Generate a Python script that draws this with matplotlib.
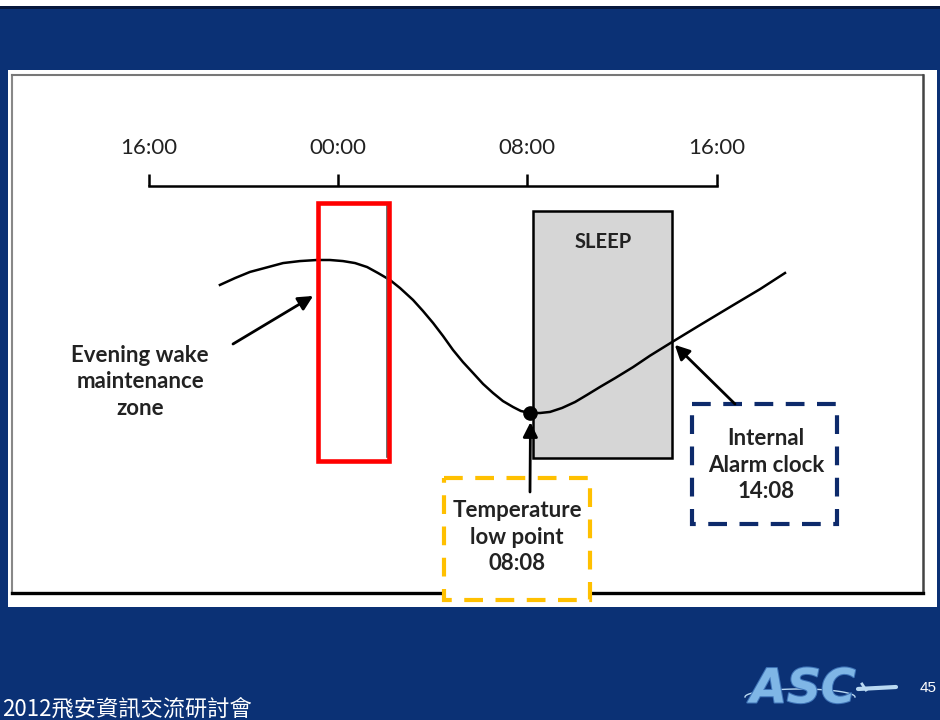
import numpy as np
import matplotlib.pyplot as plt
from matplotlib.patches import Rectangle
import matplotlib.patheffects as pe

# time axis, hours relative to midnight
tick_hours = [-8, 0, 8, 16]
tick_labels = ['16:00', '00:00', '08:00', '16:00']

# core body temperature rhythm (relative: 0 = low point, 1 = peak)
curve_hours = [-4.99, -4.35, -3.72, -3.09, -2.32, -1.61, -0.89, -0.34, 0.21,
               0.72, 1.23, 1.69, 2.20, 2.62, 3.17, 3.59, 4.02, 4.44, 4.86,
               5.28, 5.71, 6.13, 6.55, 6.97, 7.40, 7.73, 8.13, 8.54, 8.96,
               9.47, 10.02, 10.52, 11.07, 11.71, 12.47, 13.19, 14.12, 15.30,
               16.57, 17.84, 18.89]
curve_temp = [0.837, 0.882, 0.922, 0.948, 0.980, 0.993, 1.000, 1.000, 0.993,
              0.980, 0.954, 0.915, 0.869, 0.817, 0.739, 0.667, 0.588, 0.503,
              0.412, 0.333, 0.261, 0.190, 0.131, 0.078, 0.039, 0.013, 0.0,
              0.0, 0.007, 0.033, 0.072, 0.118, 0.170, 0.228, 0.300, 0.375,
              0.464, 0.575, 0.693, 0.810, 0.915]

low_point_hour = 8 + 8 / 60     # 08:08
alarm_hour = 14 + 8 / 60        # 14:08
sleep_start, sleep_end = 8.25, alarm_hour
wmz_start, wmz_end = -0.85, 2.15

slide_blue = '#0b3175'
navy = '#0d2a6b'
yellow = '#ffc000'
txt = '#222222'
font = ['Lato', 'DejaVu Sans']

fig = plt.figure(figsize=(9.4, 7.2), dpi=100)
fig.patch.set_facecolor(slide_blue)

# slide layer in pixel units
bg = fig.add_axes([0, 0, 1, 1])
bg.set_xlim(0, 940)
bg.set_ylim(720, 0)
bg.axis('off')
bg.add_patch(Rectangle((0, 0), 940, 6, color='white', lw=0))
bg.add_patch(Rectangle((0, 6), 940, 3, color='#06183d', lw=0))
bg.add_patch(Rectangle((8, 70), 929, 537, color='white', lw=0))
bg.plot([12, 12], [75, 593], color='#888888', lw=1.5)
bg.plot([12, 923], [75, 75], color='#777777', lw=1.5)
bg.plot([923, 923], [75, 593], color='#444444', lw=1.8)
bg.plot([12, 923], [593, 593], color='black', lw=2.4)

# chart layer: x in hours, y in relative temperature
ch = fig.add_axes([0, 0, 1, 1])
ch.patch.set_alpha(0)
pxh = 189.3 / 8
ch.set_xlim(-338 / pxh, (940 - 338) / pxh)
ch.set_ylim(-307 / 153, 413 / 153)
ch.axis('off')

# timeline
line_y = 1.484
ch.plot([tick_hours[0], tick_hours[-1]], [line_y, line_y], color='black', lw=1.8, zorder=3)
ch.vlines(tick_hours, line_y, line_y + 0.075, color='black', lw=1.8, zorder=3)
for h, lab in zip(tick_hours, tick_labels):
    ch.text(h, 1.73, lab, ha='center', va='center', fontsize=16,
            family=font, color=txt)

# sleep period
ch.add_patch(Rectangle((sleep_start, -0.294), sleep_end - sleep_start, 1.614,
                       facecolor='#d6d6d6', edgecolor='black', lw=1.8, zorder=2))
ch.text((sleep_start + sleep_end) / 2, 1.12, 'SLEEP', ha='center', va='center',
        fontsize=14.5, fontweight='bold', family=font, color=txt, zorder=5)

# temperature curve and low point
ch.plot(curve_hours, curve_temp, color='black', lw=1.8, zorder=4,
        solid_joinstyle='round')
ch.plot([low_point_hour], [0], 'o', color='black', ms=9.5, zorder=5)

# evening wake maintenance zone
ch.plot([wmz_end - 0.08] * 2, [-0.29, 1.35], color='#555555', lw=1.2, zorder=5)
ch.add_patch(Rectangle((wmz_start, -0.314), wmz_end - wmz_start, 1.687,
                       facecolor='none', edgecolor='#ff0000', lw=3.3, zorder=6))

arrow = dict(arrowstyle='-|>', color='black', lw=2, mutation_scale=22,
             shrinkA=0, shrinkB=0)
label_kw = dict(ha='center', va='center', fontsize=16, fontweight='bold',
                family=font, color=txt, linespacing=1.35)

ch.annotate('', xy=(wmz_start - 0.2, 0.765), xytext=(233, 344),
            textcoords=bg.transData, arrowprops=arrow, zorder=7)
ch.text(140, 382, 'Evening wake\nmaintenance\nzone', transform=bg.transData,
        **label_kw)

# low point label
ch.annotate('', xy=(low_point_hour, -0.06), xytext=(530, 492),
            textcoords=bg.transData, arrowprops=arrow, zorder=7)
bg.add_patch(Rectangle((444, 478), 146, 122, facecolor='white', edgecolor=yellow,
                       lw=3, linestyle=(0, (4.5, 3)), zorder=3))
bg.text(517, 537, 'Temperature\nlow point\n08:08', zorder=4, **label_kw)

# internal alarm clock label
alarm_temp = np.interp(alarm_hour, curve_hours, curve_temp)
ch.annotate('', xy=(alarm_hour + 0.1, alarm_temp - 0.02), xytext=(735, 404),
            textcoords=bg.transData, arrowprops=arrow, zorder=7)
bg.add_patch(Rectangle((692, 404), 145, 120, facecolor='white', edgecolor=navy,
                       lw=3, linestyle=(0, (4.5, 3)), zorder=3))
bg.text(766, 465, 'Internal\nAlarm clock\n14:08', zorder=4, **label_kw)

# footer
bg.text(2, 709, '2012飛安資訊交流研討會', ha='left', va='center', fontsize=16,
        color='white', family=['Noto Sans CJK TC', 'DejaVu Sans'])
bg.text(928, 688, '45', ha='center', va='center', fontsize=11,
        color='white', family=['Liberation Sans', 'DejaVu Sans'])

# ASC logo
t = np.linspace(0, np.pi, 60)
bg.plot(800 + 55 * np.cos(t + np.pi), 697 - 8 * np.sin(t), color='#b9d9f2', lw=1)
bg.text(803, 690, 'ASC', ha='center', va='center', fontsize=34,
        fontstyle='italic', fontweight='heavy', color='#7fb6e6',
        family=['DejaVu Sans'],
        path_effects=[pe.withStroke(linewidth=1.5, foreground='#3f74b8')])
bg.plot([858, 896], [689, 687], color='#b9d9f2', lw=3, solid_capstyle='round')
bg.plot([862, 866], [684, 690], color='#b9d9f2', lw=2)

fig.savefig('out.png', dpi=100, facecolor=fig.get_facecolor())
